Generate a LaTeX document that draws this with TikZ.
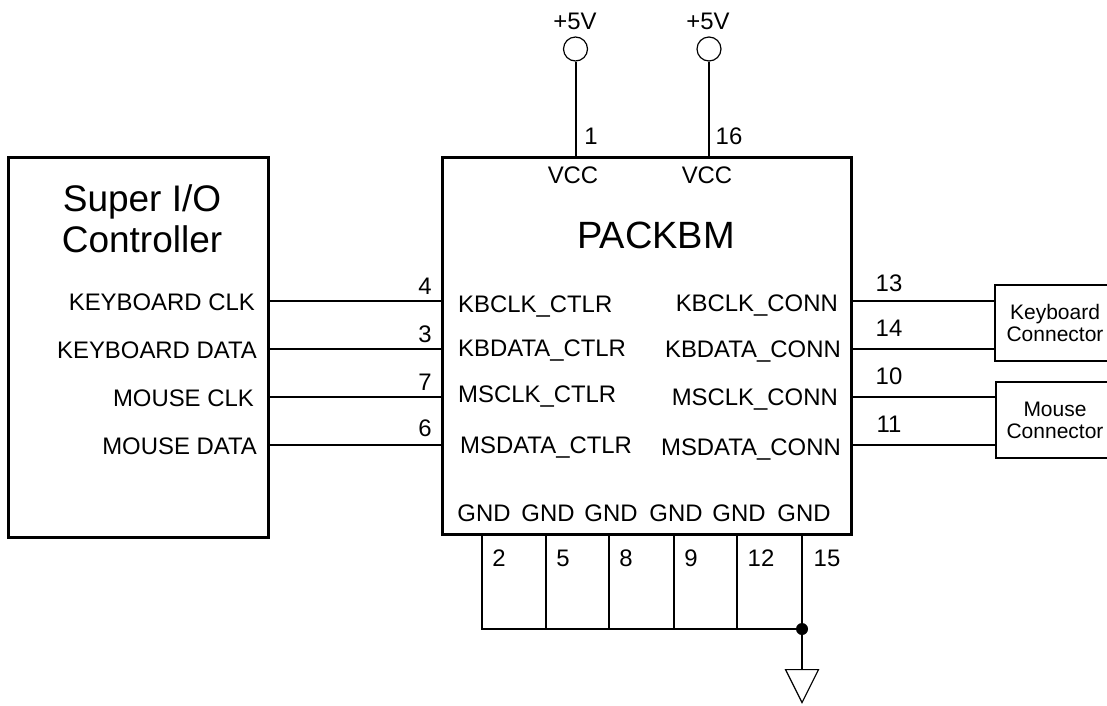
\documentclass[tikz,border=0pt]{standalone}
\usepackage{fontspec}
\setmainfont{Liberation Sans}
\usetikzlibrary{shapes.geometric}
\tikzset{
	wire/.style = {line width = 2pt},
	chipbox/.style = {draw, line width = 3pt, inner sep = 0pt},
	connbox/.style = {draw, line width = 2.4pt, inner sep = 0pt, align = center, font = \fontsize{21}{22}\selectfont},
	lbl/.style = {inner sep = 0pt, text height = 17pt, text depth = 0pt, font = \fontsize{23.9}{24}\selectfont},
	supply/.style = {draw, circle, line width = 1.2pt, inner sep = 0pt, minimum size = 24pt},
	junction/.style = {fill, circle, inner sep = 0pt, minimum size = 12pt}
}
\begin{document}
\begin{tikzpicture} [x = 1pt, y = -1pt]
			\useasboundingbox (0,0) rectangle (1107,705);
			
			\node (superio) [chipbox, minimum width = 260pt, minimum height = 380pt] at (138,347) {};
			\node (chip) [chipbox, minimum width = 409pt, minimum height = 377pt] at (646.5,345.5) {};
			\node (kbconn) [connbox, minimum width = 120pt, minimum height = 76pt] at (1055,323) {Keyboard\\Connector};
			\node (msconn) [connbox, minimum width = 118pt, minimum height = 76pt] at (1055,420) {Mouse\\Connector};
			
			\node (siolbl) [align = center, font = \fontsize{37}{41}\selectfont] at (142,219) {Super I/O\\Controller};
			\node (chiplbl) [font = \fontsize{38}{40}\selectfont] at (656,235) {PACKBM};
			
			% supply pins
			\node (vcca) [supply] at (575.5,49) {};
			\node (vccb) [supply] at (709,49) {};
			\draw [wire] (vcca) to (vcca |- chip.north) ;
			\draw [wire] (vccb) to (vccb |- chip.north) ;
			\node (plusa) [lbl] at (575,21) {+5V};
			\node (plusb) [lbl] at (708,21) {+5V};
			\node (pina) [lbl] at (591,136) {1};
			\node (pinb) [lbl] at (729,136) {16};
			\node (vcclbla) [lbl] at (573,175) {VCC};
			\node (vcclblb) [lbl] at (707,175) {VCC};
			
			% controller side
			\coordinate (pin4) at (442,301);
			\coordinate (pin3) at (442,349);
			\coordinate (pin7) at (442,397);
			\coordinate (pin6) at (442,445);
			\draw [wire] (superio.east |- pin4) to (pin4) ;
			\draw [wire] (superio.east |- pin3) to (pin3) ;
			\draw [wire] (superio.east |- pin7) to (pin7) ;
			\draw [wire] (superio.east |- pin6) to (pin6) ;
			\node (kclk) [lbl, anchor = east] at (255,302) {KEYBOARD CLK};
			\node (kdata) [lbl, anchor = east] at (257,350) {KEYBOARD DATA};
			\node (mclk) [lbl, anchor = east] at (254,398) {MOUSE CLK};
			\node (mdata) [lbl, anchor = east] at (257,446) {MOUSE DATA};
			\node (numfour) [lbl] at (425,286) {4};
			\node (numthree) [lbl] at (425,334) {3};
			\node (numseven) [lbl] at (425,382) {7};
			\node (numsix) [lbl] at (425,428) {6};
			\node (kbclkctlr) [lbl, anchor = west] at (458,304) {KBCLK\_CTLR};
			\node (kbdatactlr) [lbl, anchor = west] at (458,348) {KBDATA\_CTLR};
			\node (msclkctlr) [lbl, anchor = west] at (458,394) {MSCLK\_CTLR};
			\node (msdatactlr) [lbl, anchor = west] at (460,445) {MSDATA\_CTLR};
			
			% connector side
			\coordinate (pin13) at (851,301);
			\coordinate (pin14) at (851,349);
			\coordinate (pin10) at (851,397);
			\coordinate (pin11) at (851,445);
			\draw [wire] (pin13) to (kbconn.west |- pin13) ;
			\draw [wire] (pin14) to (kbconn.west |- pin14) ;
			\draw [wire] (pin10) to (msconn.west |- pin10) ;
			\draw [wire] (pin11) to (msconn.west |- pin11) ;
			\node (kbclkconn) [lbl, anchor = east] at (838,303) {KBCLK\_CONN};
			\node (kbdataconn) [lbl, anchor = east] at (841,349) {KBDATA\_CONN};
			\node (msclkconn) [lbl, anchor = east] at (838,397) {MSCLK\_CONN};
			\node (msdataconn) [lbl, anchor = east] at (841,447) {MSDATA\_CONN};
			\node (numthirteen) [lbl] at (889,283) {13};
			\node (numfourteen) [lbl] at (889,328) {14};
			\node (numten) [lbl] at (889,376) {10};
			\node (numeleven) [lbl] at (889,424) {11};
			
			% ground pins
			\node (gndlbla) [lbl] at (484,513) {GND};
			\node (gndlblb) [lbl] at (548,513) {GND};
			\node (gndlblc) [lbl] at (611,513) {GND};
			\node (gndlbld) [lbl] at (676,513) {GND};
			\node (gndlble) [lbl] at (739,513) {GND};
			\node (gndlblf) [lbl] at (804,513) {GND};
			\node (numtwo) [lbl] at (499,558) {2};
			\node (numfive) [lbl] at (563,558) {5};
			\node (numeight) [lbl] at (626,558) {8};
			\node (numnine) [lbl] at (691,558) {9};
			\node (numtwelve) [lbl] at (761,558) {12};
			\node (numfifteen) [lbl] at (827,558) {15};
			
			\node (rail) [junction] at (802,629) {};
			\node (gndsym) [draw, line width = 1.2pt, isosceles triangle, isosceles triangle stretches, shape border rotate = 270, inner sep = 0pt, minimum width = 33pt, minimum height = 33pt, anchor = lower side] at (802,669) {};
			\coordinate (pin2) at (482,534);
			\coordinate (pin5) at (546,534);
			\coordinate (pin8) at (609,534);
			\coordinate (pin9) at (674,534);
			\coordinate (pin12) at (737,534);
			\coordinate (pin15) at (802,534);
			\draw [wire] (pin2) to (pin2 |- rail) to (rail) ;
			\draw [wire] (pin5) to (pin5 |- rail) ;
			\draw [wire] (pin8) to (pin8 |- rail) ;
			\draw [wire] (pin9) to (pin9 |- rail) ;
			\draw [wire] (pin12) to (pin12 |- rail) ;
			\draw [wire] (pin15) to (rail) ;
			\draw [wire] (rail) to (gndsym.lower side) ;
		\end{tikzpicture}
\end{document}
